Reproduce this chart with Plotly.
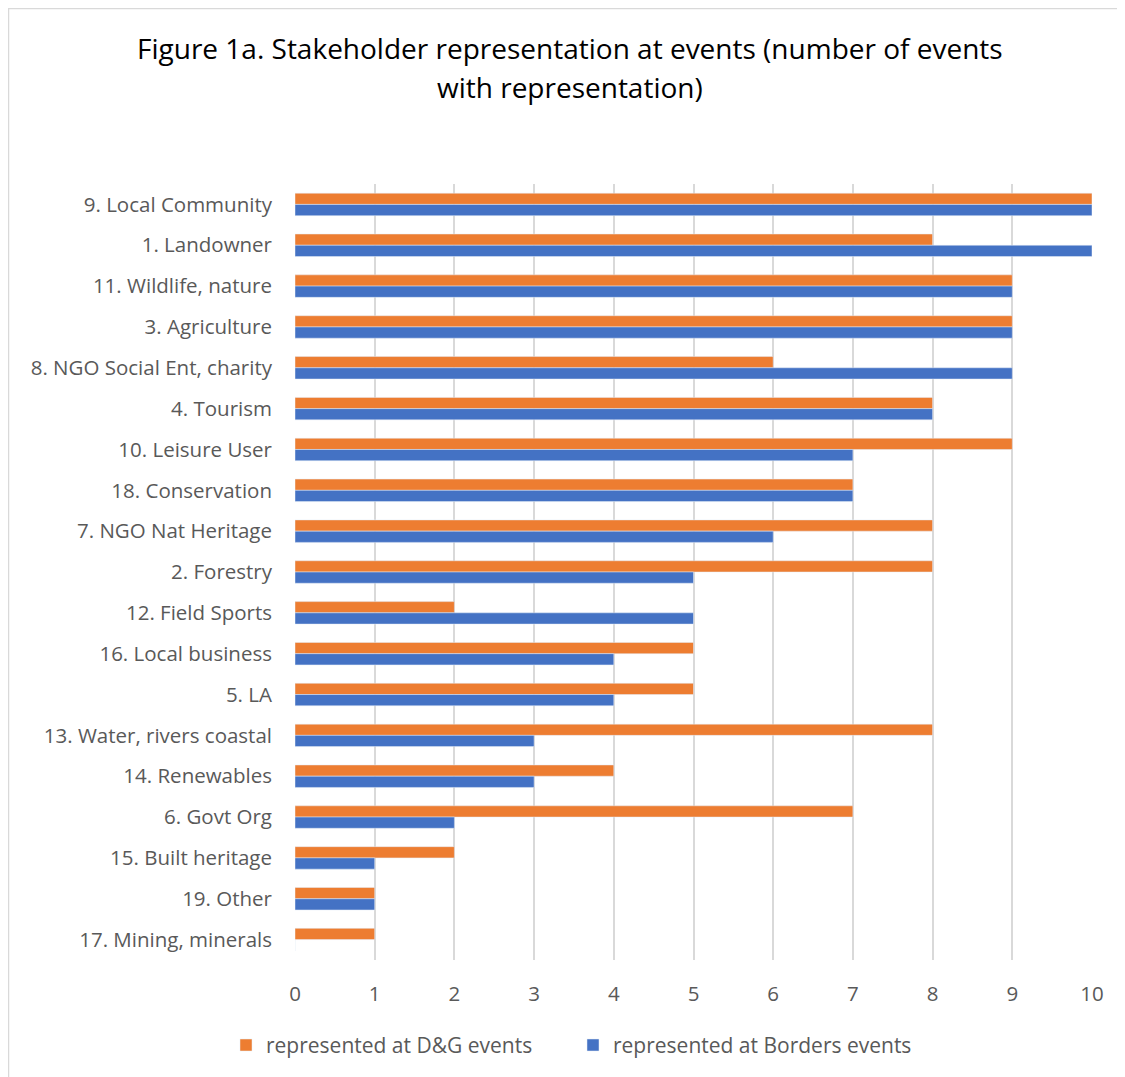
import plotly.graph_objects as go

# stakeholder categories, top to bottom as in the chart
categories = [
    "9. Local Community", "1. Landowner", "11. Wildlife, nature", "3. Agriculture",
    "8. NGO Social Ent, charity", "4. Tourism", "10. Leisure User", "18. Conservation",
    "7. NGO Nat Heritage", "2. Forestry", "12. Field Sports", "16. Local business",
    "5. LA", "13. Water, rivers coastal", "14. Renewables", "6. Govt Org",
    "15. Built heritage", "19. Other", "17. Mining, minerals",
]
dg_events = [10, 8, 9, 9, 6, 8, 9, 7, 8, 8, 2, 5, 5, 8, 4, 7, 2, 1, 1]
borders_events = [10, 10, 9, 9, 9, 8, 7, 7, 6, 5, 5, 4, 4, 3, 3, 2, 1, 1, 0]
x_ticks = list(range(0, 11))
title_lines = ["Figure 1a. Stakeholder representation at events (number of events",
               "with representation)"]

font_name = "Open Sans, sans-serif"
grey = "#595959"

fig = go.Figure()
fig.add_trace(go.Bar(y=categories, x=dg_events, orientation="h",
                     name="represented at D&G events", marker_color="#ED7D31"))
fig.add_trace(go.Bar(y=categories, x=borders_events, orientation="h",
                     name="represented at Borders events", marker_color="#4472C4"))

# page body has an 8px margin, so shift the plot area up/left by 8
L, T, W, H = 287, 176, 797, 776

fig.update_layout(
    width=1125, height=1077,
    paper_bgcolor="white", plot_bgcolor="white",
    font=dict(family=font_name, color=grey, size=20.5),
    barmode="group", bargap=0.45, bargroupgap=0,
    margin=dict(l=L, r=1125 - L - W, t=T, b=1077 - T - H),
    legend=dict(orientation="h", x=(565 - L) / W, xanchor="center", y=-0.11, yanchor="middle",
                font=dict(size=21, color=grey), itemwidth=30, traceorder="normal",
                entrywidth=302),
    showlegend=True,
)
fig.update_xaxes(range=[0, 10], tickvals=x_ticks, showgrid=True, gridcolor="#D9D9D9",
                 gridwidth=2, zeroline=False, showline=False, ticks="",
                 ticklabelstandoff=19, automargin=False)
fig.update_yaxes(autorange="reversed", showgrid=False, showline=False, ticks="",
                 ticklabelstandoff=22, automargin=False)

# two-line title, placed as separate lines to match the spacing
for i, line in enumerate(title_lines):
    fig.add_annotation(text=line, xref="paper", yref="paper",
                       x=(562 - L) / W, y=(T + H - 40 - 39 * i) / H,
                       xanchor="center", yanchor="middle", showarrow=False,
                       font=dict(size=28, color="black", family=font_name))

# light border around the whole chart area
fig.add_shape(type="rect", xref="paper", yref="paper",
              x0=(0.5 - L) / W, x1=(1116 - L) / W,
              y0=(T + H - 1076) / H, y1=(T + H - 0.5) / H,
              line=dict(color="#D9D9D9", width=1.5), layer="below")

fig.write_html("out.html")
